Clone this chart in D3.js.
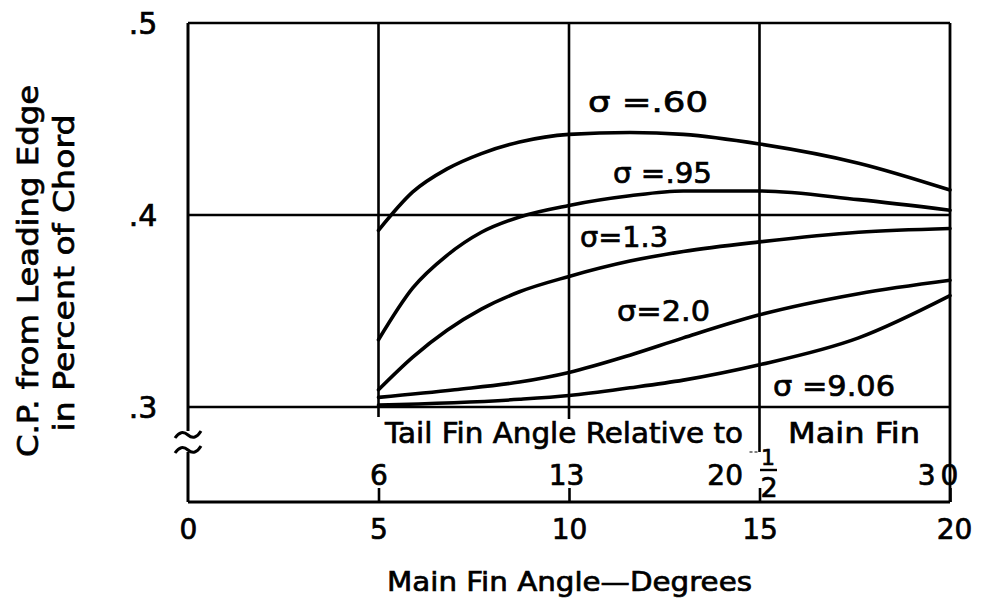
<!DOCTYPE html>
<html>
<head>
<meta charset="utf-8">
<script src="https://cdn.jsdelivr.net/npm/d3@7"></script>
<style>
  html, body { margin: 0; padding: 0; background: #fff; }
  svg { display: block; }
  text { font-family: "DejaVu Sans", sans-serif; font-weight: normal; fill: #000;
         stroke: #000; stroke-width: 0.7px; }
</style>
</head>
<body>
<svg id="chart" width="982" height="601"></svg>
<script>
// Main fin angle ticks (degrees) and their labels
const mainAngleTicks = [0, 5, 10, 15, 20];
const mainAngleLabels = ["0", "5", "10", "15", "20"];

// Tail fin angle relative to main fin, read at the same positions
const tailTickAngles = [5, 10, 15, 20];
const tailTickLabels = ["6", "13", "20½", "30"];

// C.P. axis ticks
const cpTicks = [0.3, 0.4, 0.5];
const cpTickLabels = [".3", ".4", ".5"];

// Curves: [main fin angle, C.P. fraction of chord]
const sigma060 = [[5, .392], [5.9, .412], [6.8, .424], [7.7, .432], [8.7, .438], [10, .442],
                  [11.6, .443], [13, .442], [15, .437], [17.6, .427], [20, .413]];
const sigma095 = [[5, .335], [5.9, .362], [6.8, .379], [7.7, .391], [8.7, .399], [10, .405],
                  [11.6, .410], [13, .4125], [15, .4125], [17.6, .408], [20, .4025]];
const sigma130 = [[5, .309], [5.9, .326], [6.8, .340], [7.7, .351], [8.7, .360], [10, .368],
                  [11.6, .376], [13, .381], [15, .386], [17.6, .391], [20, .393]];
const sigma200 = [[5, .305], [7, .309], [8.7, .313], [10, .318], [11.6, .327], [13, .336],
                  [15, .348], [17.6, .359], [20, .366]];
const sigma906 = [[5, .301], [8.7, .304], [10, .306], [11.6, .310], [13, .314], [15, .322],
                  [17.6, .336], [20, .358]];

const seriesNames = ["σ =.60", "σ =.95", "σ=1.3", "σ=2.0", "σ =9.06"];
const seriesData = [sigma060, sigma095, sigma130, sigma200, sigma906];

// ---- layout ----
const svg = d3.select("#chart");
const x = d3.scaleLinear().domain([0, 20]).range([188, 950]);
const y = d3.scaleLinear().domain([0.3, 0.5]).range([407, 23]);
const axisY = 502;         // baseline carrying both angle scales
const breakTop = 431, breakBottom = 452;

const ink = "#000";

// grid: horizontal lines at each C.P. tick
svg.append("g").selectAll("line").data(cpTicks).join("line")
  .attr("x1", x(0)).attr("x2", x(20))
  .attr("y1", d => y(d)).attr("y2", d => y(d))
  .attr("stroke", ink).attr("stroke-width", 2.6);

// grid: vertical lines at 5, 10, 15 (running a little below .3)
const vExtend = {5: 417, 10: 419, 15: 452};
svg.append("g").selectAll("line").data([5, 10, 15]).join("line")
  .attr("x1", d => x(d)).attr("x2", d => x(d))
  .attr("y1", y(0.5)).attr("y2", d => vExtend[d])
  .attr("stroke", ink).attr("stroke-width", 2.6);
// small box corner left of the 15 line
svg.append("line").attr("x1", x(15) - 10).attr("x2", x(15))
  .attr("y1", 452).attr("y2", 452).attr("stroke", ink).attr("stroke-width", 1.2)
  .attr("stroke-dasharray", "3,2");

// right border
svg.append("line").attr("x1", x(20)).attr("x2", x(20))
  .attr("y1", y(0.5)).attr("y2", axisY)
  .attr("stroke", ink).attr("stroke-width", 2.8);

// left axis with a break below .3
svg.append("line").attr("x1", x(0)).attr("x2", x(0))
  .attr("y1", y(0.5)).attr("y2", breakTop)
  .attr("stroke", ink).attr("stroke-width", 3);
svg.append("line").attr("x1", x(0)).attr("x2", x(0))
  .attr("y1", breakBottom).attr("y2", axisY)
  .attr("stroke", ink).attr("stroke-width", 3);
[breakTop + 4, breakBottom - 2].forEach(yy => {
  svg.append("path")
    .attr("d", `M${x(0) - 13},${yy + 3} Q${x(0) - 7},${yy - 6} ${x(0)},${yy} T${x(0) + 13},${yy - 4}`)
    .attr("fill", "none").attr("stroke", ink).attr("stroke-width", 3);
});

// bottom axis: main fin angle labels below
const bottomAxis = d3.axisBottom(x).tickValues(mainAngleTicks)
  .tickSize(0).tickPadding(17)
  .tickFormat((d, i) => mainAngleLabels[i]);
const gb = svg.append("g").attr("transform", `translate(0,${axisY})`).call(bottomAxis);
gb.select(".domain").remove();
gb.selectAll("text").attr("font-size", 28).attr("font-family", "DejaVu Sans, sans-serif")
  .attr("fill", ink);
gb.selectAll(".tick").filter(d => d === 20).select("text").attr("dx", 4);

// baseline
svg.append("line").attr("x1", x(0)).attr("x2", x(20))
  .attr("y1", axisY).attr("y2", axisY)
  .attr("stroke", ink).attr("stroke-width", 3);

// upward ticks for the tail fin angle scale
const topAxis = d3.axisTop(x).tickValues(tailTickAngles)
  .tickSizeInner(14).tickSizeOuter(0).tickPadding(3)
  .tickFormat((d, i) => tailTickLabels[i]);
const gt = svg.append("g").attr("transform", `translate(0,${axisY})`).call(topAxis);
gt.select(".domain").remove();
gt.selectAll("line").attr("stroke", ink).attr("stroke-width", 2.6);
gt.selectAll("text").attr("font-size", 28).attr("font-family", "DejaVu Sans, sans-serif")
  .attr("fill", ink);
gt.selectAll(".tick").filter(d => d === 10).select("text").attr("dx", -3);
gt.selectAll(".tick").filter(d => d === 20).select("text")
  .attr("dx", -10).attr("letter-spacing", 5);
// 20 1/2 drawn as whole number plus stacked fraction
const halfTick = gt.selectAll(".tick").filter(d => d === 15);
halfTick.select("text").text("20").attr("text-anchor", "end").attr("dx", -17);
halfTick.append("text").text("1").attr("x", 8).attr("y", -37)
  .attr("text-anchor", "middle").attr("font-size", 22);
halfTick.append("line").attr("x1", 0).attr("x2", 17).attr("y1", -32).attr("y2", -32)
  .attr("stroke", ink).attr("stroke-width", 2.4);
halfTick.append("text").text("2").attr("x", 9).attr("y", -5)
  .attr("text-anchor", "middle").attr("font-size", 27);

// C.P. tick labels
svg.append("g").selectAll("text").data(cpTicks).join("text")
  .attr("x", 143).attr("y", d => y(d) + 11)
  .attr("text-anchor", "middle").attr("font-size", 30)
  .text((d, i) => cpTickLabels[i]);

// curves
const line = d3.line().x(d => x(d[0])).y(d => y(d[1])).curve(d3.curveMonotoneX);
svg.append("g").selectAll("path").data(seriesData).join("path")
  .attr("d", line).attr("fill", "none")
  .attr("stroke", ink).attr("stroke-width", 3.6).attr("stroke-linecap", "round");

// curve labels
const labelBox = [
  {x0: 588, x1: 708, cy: 101},
  {x0: 613, x1: 712, cy: 172},
  {x0: 580, x1: 668, cy: 236},
  {x0: 617, x1: 710, cy: 310},
  {x0: 773, x1: 895, cy: 385}
];
svg.append("g").selectAll("text").data(seriesNames).join("text")
  .attr("x", (d, i) => labelBox[i].x0)
  .attr("y", (d, i) => labelBox[i].cy + 11)
  .attr("font-size", 29)
  .attr("textLength", (d, i) => labelBox[i].x1 - labelBox[i].x0)
  .attr("lengthAdjust", "spacingAndGlyphs")
  .text(d => d);

// tail fin scale title
svg.append("text").attr("x", 385).attr("y", 443).attr("font-size", 28)
  .attr("textLength", 358).attr("lengthAdjust", "spacingAndGlyphs")
  .text("Tail Fin Angle Relative to");
svg.append("text").attr("x", 788).attr("y", 443).attr("font-size", 28)
  .attr("textLength", 132).attr("lengthAdjust", "spacingAndGlyphs")
  .text("Main Fin");

// x title
svg.append("text").attr("x", 387).attr("y", 591).attr("font-size", 27)
  .attr("textLength", 365).attr("lengthAdjust", "spacingAndGlyphs")
  .text("Main Fin Angle—Degrees");

// y title, two rotated lines
svg.append("text").attr("transform", "translate(38,271) rotate(-90)")
  .attr("text-anchor", "middle").attr("font-size", 28)
  .attr("textLength", 372).attr("lengthAdjust", "spacingAndGlyphs")
  .text("C.P. from Leading Edge");
svg.append("text").attr("transform", "translate(74,273) rotate(-90)")
  .attr("text-anchor", "middle").attr("font-size", 28)
  .attr("textLength", 317).attr("lengthAdjust", "spacingAndGlyphs")
  .text("in Percent of Chord");
</script>
</body>
</html>
